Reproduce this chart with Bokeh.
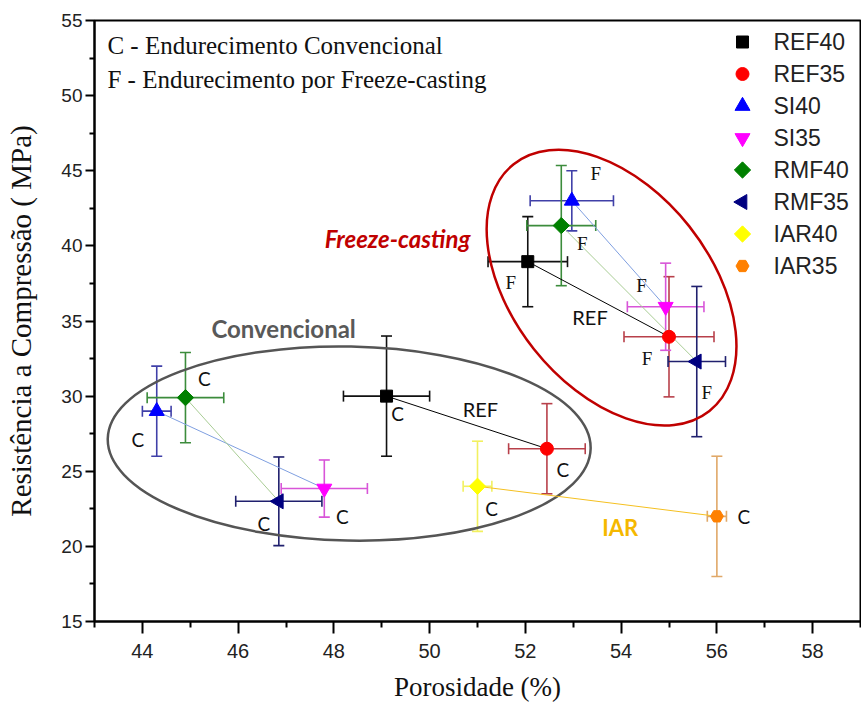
from bokeh.plotting import figure
from bokeh.models import (Whisker, ColumnDataSource, Label, TeeHead, FixedTicker, Range1d)
from bokeh.embed import file_html
from bokeh.resources import INLINE
from bokeh.core.properties import value
import math

# ---------------- data ----------------
series = ["REF40", "REF35", "SI40", "SI35", "RMF40", "RMF35", "IAR40", "IAR35"]

# Conventional curing (C)
conv_x = [49.1, 52.45, 44.3, 47.8, 44.9, 46.85, 51.0, 56.0]
conv_x_err = [0.9, 0.8, 0.3, 0.9, 0.8, 0.9, 0.3, 0.2]
conv_y = [30.0, 26.5, 29.0, 23.85, 29.9, 23.0, 24.0, 22.0]
conv_y_err = [4.0, 3.0, 3.0, 1.9, 3.0, 2.95, 3.0, 4.0]

# Freeze-casting curing (F)
fz_series = ["REF40", "REF35", "SI40", "SI35", "RMF40", "RMF35"]
fz_x = [52.05, 55.0, 52.97, 54.93, 52.75, 55.58]
fz_x_err = [0.83, 0.94, 0.87, 0.8, 0.72, 0.6]
fz_y = [38.95, 33.95, 43.0, 35.95, 41.35, 32.3]
fz_y_err = [3.0, 4.0, 2.0, 2.9, 4.0, 5.0]

# connected pairs
conv_pairs = [("REF40", "REF35"), ("SI40", "SI35"), ("RMF40", "RMF35"), ("IAR40", "IAR35")]
fz_pairs = [("REF40", "REF35"), ("SI40", "SI35"), ("RMF40", "RMF35")]

x_ticks = [44, 46, 48, 50, 52, 54, 56, 58]
y_ticks = [15, 20, 25, 30, 35, 40, 45, 50, 55]

# ---------------- styles ----------------
style = {
    "REF40": dict(marker="square", color="#000000", err="#111111", size=12, angle=0.0),
    "REF35": dict(marker="circle", color="#ff0000", err="#b8404a", size=13, angle=0.0),
    "SI40": dict(marker="triangle", color="#0000ff", err="#4040a8", size=15, angle=0.0),
    "SI35": dict(marker="inverted_triangle", color="#ff00ff", err="#d855d8", size=15, angle=0.0),
    "RMF40": dict(marker="square", color="#008000", err="#3c8c3c", size=11.5, angle=math.pi / 4),
    "RMF35": dict(marker="triangle", color="#000080", err="#20206e", size=15, angle=math.pi / 2),
    "IAR40": dict(marker="square", color="#ffff00", err="#f2f060", size=11.5, angle=math.pi / 4),
    "IAR35": dict(marker="hex", color="#ff8000", err="#e0a868", size=13, angle=0.0),
}
pair_color = {"REF40": "#000000", "SI40": "#7f9fe0", "RMF40": "#a8cc94", "IAR40": "#f5c020"}

c_off = {"REF40": (11, 17), "REF35": (16, 21), "SI40": (-19, 28), "SI35": (18, 28),
         "RMF40": (19, -19), "RMF35": (-15, 22), "IAR40": (14, 22), "IAR35": (27, 0)}
f_off = {"REF40": (-17, 21), "REF35": (-22, 22), "SI40": (24, -27), "SI35": (-24, -21),
         "RMF40": (21, 18), "RMF35": (10, 31)}

FW, FH = 766, 601  # frame size in pixels
p = figure(width=861, height=713, x_range=(43, 59), y_range=(15, 55),
           output_backend="svg", toolbar_location=None,
           min_border_left=94, min_border_right=1, min_border_top=20, min_border_bottom=92)
# pixel-space ranges used only to place the legend block
p.extra_x_ranges = {"lx": Range1d(0, FW)}
p.extra_y_ranges = {"ly": Range1d(FH, 0)}
p.xgrid.visible = False
p.ygrid.visible = False
p.outline_line_color = "black"
p.outline_line_width = 2
p.background_fill_color = "white"
p.border_fill_color = "white"

# axes
p.xaxis.ticker = FixedTicker(ticks=x_ticks, minor_ticks=[43 + 2 * i for i in range(9)])
p.yaxis.ticker = FixedTicker(ticks=y_ticks, minor_ticks=[17.5 + 5 * i for i in range(8)])
for ax in (p.xaxis, p.yaxis):
    ax.axis_line_width = 2
    ax.axis_line_color = "black"
    ax.major_tick_line_width = 2
    ax.minor_tick_line_width = 2
    ax.major_tick_in = 0
    ax.minor_tick_in = 0
    ax.major_label_text_font = "Liberation Sans"
    ax.major_label_text_color = "#222222"
    ax.axis_label_text_font = "Liberation Serif"
    ax.axis_label_text_font_style = "normal"
    ax.axis_label_text_color = "#111111"
p.xaxis.axis_label_text_font_size = "27px"
p.yaxis.axis_label_text_font_size = "29px"
p.xaxis.major_tick_out = 12
p.xaxis.minor_tick_out = 6
p.yaxis.major_tick_out = 9
p.yaxis.minor_tick_out = 5
p.xaxis.major_label_text_font_size = "20px"
p.yaxis.major_label_text_font_size = "19px"
p.xaxis.major_label_standoff = 10
p.yaxis.major_label_standoff = 3
p.xaxis.axis_label = "Porosidade (%)"
p.yaxis.axis_label = "Resistência a Compressão ( MPa)"
p.xaxis.axis_label_standoff = 11
p.yaxis.axis_label_standoff = 21

# ellipses (group outlines)
p.ellipse(x=[48.32], y=[26.84], width=[483], height=[194], angle=[-0.02],
          width_units="screen", height_units="screen",
          fill_color=None, line_color="#555555", line_width=2.5)
p.ellipse(x=[53.80], y=[37.22], width=[315], height=[198], angle=[-0.90],
          width_units="screen", height_units="screen",
          fill_color=None, line_color="#c00000", line_width=2.5)

cidx = {s: i for i, s in enumerate(series)}
fidx = {s: i for i, s in enumerate(fz_series)}

# connecting lines
for a, b in conv_pairs:
    p.line([conv_x[cidx[a]], conv_x[cidx[b]]], [conv_y[cidx[a]], conv_y[cidx[b]]],
           line_color=pair_color[a], line_width=1)
for a, b in fz_pairs:
    p.line([fz_x[fidx[a]], fz_x[fidx[b]]], [fz_y[fidx[a]], fz_y[fidx[b]]],
           line_color=pair_color[a], line_width=1)

# error bars and markers
for s in series:
    st = style[s]
    xs = [conv_x[cidx[s]]]
    ys = [conv_y[cidx[s]]]
    xe = [conv_x_err[cidx[s]]]
    ye = [conv_y_err[cidx[s]]]
    if s in fidx:
        xs.append(fz_x[fidx[s]]); ys.append(fz_y[fidx[s]])
        xe.append(fz_x_err[fidx[s]]); ye.append(fz_y_err[fidx[s]])
    src = ColumnDataSource(dict(
        x=xs, y=ys,
        xl=[a - e for a, e in zip(xs, xe)], xu=[a + e for a, e in zip(xs, xe)],
        yl=[a - e for a, e in zip(ys, ye)], yu=[a + e for a, e in zip(ys, ye)]))
    for dim, base, lo, up in (("height", "x", "yl", "yu"), ("width", "y", "xl", "xu")):
        w = Whisker(source=src, base=base, lower=lo, upper=up, dimension=dim,
                    line_color=st["err"], line_width=1.6, level="underlay",
                    upper_head=TeeHead(size=11, line_color=st["err"], line_width=1.6),
                    lower_head=TeeHead(size=11, line_color=st["err"], line_width=1.6))
        p.add_layout(w)
    p.scatter(x="x", y="y", source=src, marker=st["marker"], size=st["size"],
              angle=st["angle"], fill_color=st["color"], line_color=st["color"])

# legend block (pixel space of the frame, y measured down from frame top)
LEG_X, LEG_TX, LEG_Y0, LEG_DY = 648, 679, 21.5, 32
for i, s in enumerate(series):
    st = style[s]
    p.scatter(x=[LEG_X], y=[LEG_Y0 + LEG_DY * i], x_range_name="lx", y_range_name="ly",
              marker=st["marker"], size=st["size"], angle=st["angle"],
              fill_color=st["color"], line_color=st["color"])
p.text(x=[LEG_TX] * len(series), y=[LEG_Y0 + LEG_DY * i for i in range(len(series))],
       text=series, x_range_name="lx", y_range_name="ly",
       text_font=value("Liberation Sans"), text_font_size="23px", text_color="#222222",
       text_align="left", text_baseline="middle")

# C / F labels
c_src = ColumnDataSource(dict(x=conv_x, y=conv_y, t=["C"] * len(series),
                              dx=[c_off[s][0] for s in series], dy=[c_off[s][1] for s in series]))
p.text(x="x", y="y", text="t", source=c_src, x_offset="dx", y_offset="dy",
       text_font=value("Lato"), text_font_size="19px", text_color="#111111",
       text_align="center", text_baseline="middle")
f_src = ColumnDataSource(dict(x=fz_x, y=fz_y, t=["F"] * len(fz_series),
                              dx=[f_off[s][0] for s in fz_series], dy=[f_off[s][1] for s in fz_series]))
p.text(x="x", y="y", text="t", source=f_src, x_offset="dx", y_offset="dy",
       text_font=value("Liberation Serif"), text_font_size="19px", text_color="#111111",
       text_align="center", text_baseline="middle")

# group annotations
def lab(x, y, text, font, size, color, style="normal", align="center"):
    p.add_layout(Label(x=x, y=y, text=text, text_font=font, text_font_size=size,
                       text_color=color, text_font_style=style, text_align=align,
                       text_baseline="middle"))

lab(51.06, 29.17, "REF", "Lato", "20px", "#111111")
lab(53.35, 35.29, "REF", "Lato", "20px", "#111111")
lab(46.95, 34.49, "Convencional", "Lato", "24px", "#595959", "bold")
lab(49.33, 40.48, "Freeze-casting", "Lato", "24px", "#c00000", "bold italic")
lab(53.98, 21.25, "IAR", "Lato", "22px", "#f5b800", "bold")
lab(43.27, 53.32, "C -  Endurecimento Convencional", "Liberation Serif", "25px", "#111111", align="left")
lab(43.27, 51.06, "F -  Endurecimento por Freeze-casting", "Liberation Serif", "25px", "#111111", align="left")

open("out.html", "w").write(file_html(p, INLINE))
